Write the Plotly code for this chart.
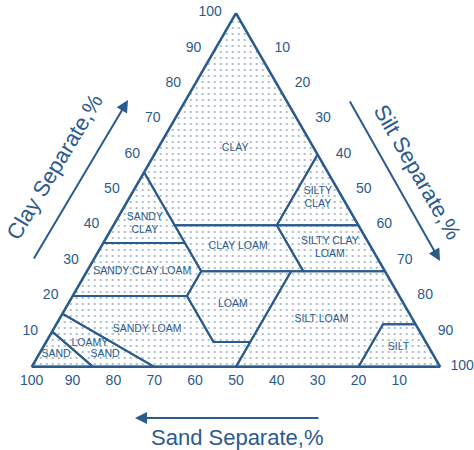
import plotly.graph_objects as go

BLUE = "#2b5b8c"
FONT = "Liberation Sans, Arial"

# Texture class boundaries, as (clay, sand, silt) percentages
classes = {
    "CLAY": [(40, 45, 15), (55, 45, 0), (100, 0, 0), (60, 0, 40), (40, 20, 40)],
    "SILTY CLAY": [(40, 20, 40), (60, 0, 40), (40, 0, 60)],
    "SANDY CLAY": [(35, 65, 0), (55, 45, 0), (35, 45, 20)],
    "CLAY LOAM": [(27, 45, 28), (40, 45, 15), (40, 20, 40), (27, 20, 53)],
    "SILTY CLAY LOAM": [(27, 20, 53), (40, 20, 40), (40, 0, 60), (27, 0, 73)],
    "SANDY CLAY LOAM": [(20, 80, 0), (35, 65, 0), (35, 45, 20), (27, 45, 28), (20, 52, 28)],
    "LOAM": [(7, 43, 50), (7, 52, 41), (20, 52, 28), (27, 45, 28), (27, 23, 50)],
    "SILT LOAM": [(0, 50, 50), (7, 43, 50), (27, 23, 50), (27, 0, 73), (12, 0, 88), (12, 8, 80), (0, 20, 80)],
    "SILT": [(0, 20, 80), (12, 8, 80), (12, 0, 88), (0, 0, 100)],
    "SANDY LOAM": [(15, 85, 0), (20, 80, 0), (20, 52, 28), (7, 52, 41), (7, 43, 50), (0, 50, 50), (0, 70, 30)],
    "LOAMY SAND": [(10, 90, 0), (15, 85, 0), (0, 70, 30), (0, 85, 15)],
    "SAND": [(0, 100, 0), (10, 90, 0), (0, 85, 15)],
}

# Class name placement: text with its clay / sand / silt position
label_text = ["CLAY", "SILTY<br>CLAY", "SANDY<br>CLAY", "CLAY LOAM", "SILTY CLAY<br>LOAM",
              "SANDY CLAY LOAM", "LOAM", "SILT LOAM", "SILT", "SANDY LOAM", "LOAMY", "SAND", "SAND"]
label_clay = [61.8, 47.7, 40.4, 33.9, 33.6, 27.1, 17.7, 13.5, 5.4, 10.7, 6.7, 3.5, 3.5]
label_sand = [19.3, 6.1, 52.1, 32.5, 10.2, 59.4, 41.9, 22.3, 7.5, 66.4, 82.4, 80.3, 92.3]
label_silt = [18.9, 46.2, 7.5, 33.6, 56.2, 13.5, 40.4, 64.2, 87.1, 22.9, 10.9, 16.2, 4.2]

tick_vals = [10, 20, 30, 40, 50, 60, 70, 80, 90, 100]
NB = "\u00a0"

# plot area of the triangle, in paper fractions
DOM_X = [31.7 / 474, 440.2 / 474]
DOM_Y = [(450 - 366.8) / 450, (450 - 13) / 450]

fig = go.Figure()

# dotted background filling the triangle (hidden cartesian layer under the ternary)
fig.add_trace(go.Scatter(
    x=[0, 1, 0.5, 0], y=[0, 0, 1, 0], mode="lines", fill="toself",
    fillpattern=dict(shape=".", fgcolor=BLUE, bgcolor="white", size=6, solidity=0.1),
    line=dict(width=0), hoverinfo="skip", showlegend=False,
))

for name, pts in classes.items():
    a = [p[0] for p in pts] + [pts[0][0]]
    b = [p[1] for p in pts] + [pts[0][1]]
    c = [p[2] for p in pts] + [pts[0][2]]
    fig.add_trace(go.Scatterternary(
        a=a, b=b, c=c, mode="lines", name=name,
        line=dict(color=BLUE, width=2), hoverinfo="name", showlegend=False,
    ))

fig.add_trace(go.Scatterternary(
    a=label_clay, b=label_sand, c=label_silt, mode="text", text=label_text,
    textfont=dict(family=FONT, size=10.5, color=BLUE),
    hoverinfo="skip", showlegend=False,
))


def axis(ticktext):
    return dict(
        min=0, tickvals=tick_vals, ticktext=ticktext,
        ticks="", showgrid=False, linecolor=BLUE, linewidth=2.5,
        tickfont=dict(family=FONT, size=14, color=BLUE),
        title=dict(text=""),
    )


silt_ticktext = [f"{NB * 4}{v}" for v in tick_vals[:-1]] + [f"{NB * 2}{tick_vals[-1]}"]

fig.update_layout(
    width=474, height=450,
    margin=dict(l=0, r=0, t=0, b=0),
    paper_bgcolor="white", plot_bgcolor="rgba(0,0,0,0)",
    xaxis=dict(domain=DOM_X, range=[0, 1], visible=False, fixedrange=True),
    yaxis=dict(domain=DOM_Y, range=[0, 1], visible=False, fixedrange=True),
    ternary=dict(
        sum=100,
        bgcolor="rgba(0,0,0,0)",
        domain=dict(x=DOM_X, y=DOM_Y),
        aaxis=axis([f"{v}{NB * 3}" for v in tick_vals]),
        baxis=axis([str(v) for v in tick_vals]),
        caxis=axis(silt_ticktext),
    ),
)

title_font = dict(family=FONT, size=22, color=BLUE)
fig.add_annotation(x=54 / 474, y=1 - 167 / 450, xref="paper", yref="paper",
                   xanchor="center", yanchor="middle",
                   text="Clay Separate,%", showarrow=False, textangle=-59, font=title_font)
fig.add_annotation(x=418 / 474, y=1 - 172 / 450, xref="paper", yref="paper",
                   xanchor="center", yanchor="middle",
                   text="Silt Separate,%", showarrow=False, textangle=60, font=title_font)
fig.add_annotation(x=237 / 474, y=1 - 437 / 450, xref="paper", yref="paper",
                   xanchor="center", yanchor="middle",
                   text="Sand Separate,%", showarrow=False, font=title_font)

# direction arrows beside each axis
arrow = dict(xref="paper", yref="paper", axref="pixel", ayref="pixel", showarrow=True,
             arrowhead=2, arrowsize=1.2, arrowwidth=2, arrowcolor=BLUE, text="")
fig.add_annotation(x=128 / 474, y=1 - 100 / 450, ax=-95, ay=160, **arrow)
fig.add_annotation(x=440 / 474, y=1 - 261 / 450, ax=-91, ay=-161, **arrow)
fig.add_annotation(x=135 / 474, y=1 - 418 / 450, ax=185, ay=0, **arrow)

fig.write_html("out.html")
